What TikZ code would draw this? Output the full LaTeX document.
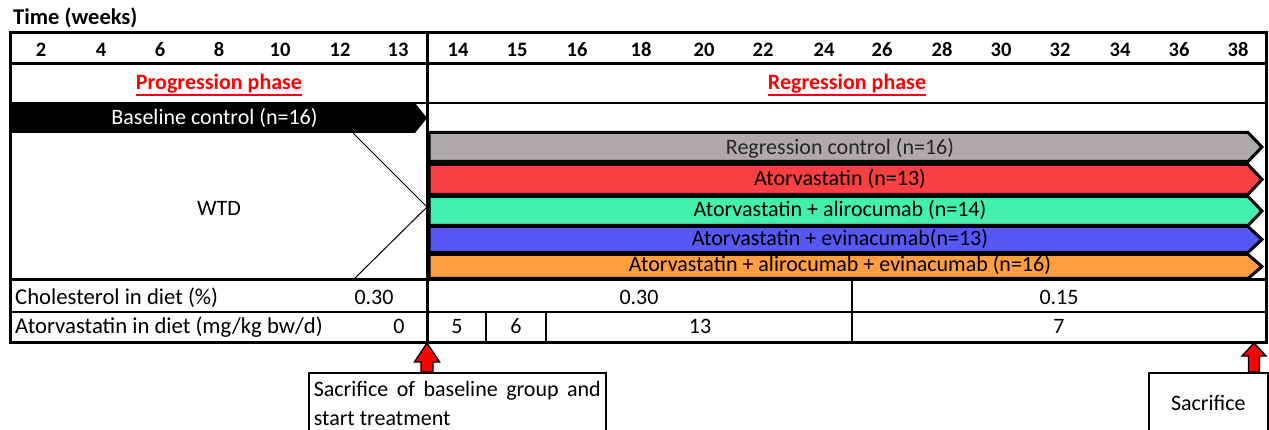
\documentclass[tikz,border=0pt]{standalone}
\usepackage{fontspec}
\setmainfont{Carlito}
\usetikzlibrary{calc}
\definecolor{cgray}{RGB}{174,170,170}
\definecolor{cred}{RGB}{248,64,66}
\definecolor{cgreen}{RGB}{66,238,176}
\definecolor{cblue}{RGB}{86,88,246}
\definecolor{corange}{RGB}{255,158,62}
\definecolor{cphase}{RGB}{255,0,0}
\tikzset{
  txt/.style={font=\fontsize{22}{26}\selectfont, inner sep=0pt},
  rowlbl/.style={font=\fontsize{22.7}{26}\selectfont, inner sep=0pt, anchor=base west},
  num/.style={font=\fontsize{20.5}{24}\selectfont\bfseries, inner sep=0pt, anchor=base},
  phase/.style={font=\fontsize{22}{26}\selectfont\bfseries, text=cphase, inner sep=0pt, anchor=base},
  bar/.style={draw=black, line width=3pt, line join=miter},
  bartxt/.style={txt, anchor=base},
  grid2/.style={line width=2pt},
  grid3/.style={line width=3pt},
  redarr/.style={draw=black, fill=red, line width=1.4pt, line join=miter},
  notebox/.style={draw=black, line width=1.6pt, fill=white, font=\fontsize{22}{29}\selectfont}
}
\begin{document}
\begin{tikzpicture}[x=1pt,y=-1pt]
\useasboundingbox (0,0) rectangle (1269,430);
\clip (0,0) rectangle (1269,430);

% title
\node[inner sep=0pt, font=\fontsize{22.5}{26}\selectfont\bfseries, anchor=base west] (title) at (13,25) {Time (weeks)};

% time numbers
\foreach \x/\t in {41/2,101/4,160/6,219/8,280/10,340/12,398/13,458/14,517/15,577/16,641/18,704/20,763/22,824/24,882/26,942/28,1001/30,1060/32,1120/34,1179/36,1238/38}
  \node[num] (t\t) at (\x,57) {\t};

% phases
\node[phase] (pp) at (219,90) {Progression phase};
\node[phase] (rp) at (847,90) {Regression phase};
\draw[cphase, line width=2pt] ($(pp.base west)+(0,5)$) -- ($(pp.base east)+(0,5)$);
\draw[cphase, line width=2pt] ($(rp.base west)+(0,5)$) -- ($(rp.base east)+(0,5)$);

% baseline control arrow
\fill[black] (10,103) -- (415,103) -- (427,118) -- (415,133) -- (10,133) -- cycle;
\node[bartxt, text=white] (bc) at (214.5,125) {Baseline control (n=16)};

% WTD
\node[txt] (wtd) at (219,208) {WTD};
\draw[line width=1pt] (353,133) -- (427,207) -- (353,280);

% regression bars
\draw[bar, fill=cgray]   (429,132.5) -- (1248,132.5) -- (1262,147) -- (1248,161.5) -- (429,161.5) -- cycle;
\draw[bar, fill=cred]    (429,164.5) -- (1248,164.5) -- (1262,179.5) -- (1248,194.5) -- (429,194.5) -- cycle;
\draw[bar, fill=cgreen]  (429,196.5) -- (1248,196.5) -- (1262,211) -- (1248,225.5) -- (429,225.5) -- cycle;
\draw[bar, fill=cblue]   (429,226.5) -- (1248,226.5) -- (1262,239.5) -- (1248,252.5) -- (429,252.5) -- cycle;
\draw[bar, fill=corange] (429,254.5) -- (1248,254.5) -- (1262,266.5) -- (1248,278.5) -- (429,278.5) -- cycle;
\node[bartxt, text=black!85] (g1) at (840,155) {Regression control (n=16)};
\node[bartxt] (g2) at (840,186) {Atorvastatin (n=13)};
\node[bartxt] (g3) at (840,217) {Atorvastatin + alirocumab (n=14)};
\node[bartxt] (g4) at (840,245.5) {Atorvastatin + evinacumab(n=13)};
\node[bartxt] (g5) at (840,272) {Atorvastatin + alirocumab + evinacumab (n=16)};

% grid lines
\draw[grid3] (10,64) -- (1266,64);
\draw[grid2] (10,103) -- (1266,103);
\draw[grid3] (10,280) -- (1266,280);
\draw[grid2] (10,312) -- (1266,312);
\draw[grid2] (486,312) -- (486,342);
\draw[grid2] (546,312) -- (546,342);
\draw[grid2] (852,280) -- (852,342);
\draw[grid3] (427,33) -- (427,342);
\draw[grid3] (10,33) rectangle (1266,342);

% diet rows
\node[rowlbl] (chl) at (15,305) {Cholesterol in diet (\%)};
\node[txt, anchor=base] (c1) at (374,305) {0.30};
\node[txt, anchor=base] (c2) at (639,305) {0.30};
\node[txt, anchor=base] (c3) at (1059,305) {0.15};
\node[rowlbl] (atl) at (15,334) {Atorvastatin in diet (mg/kg bw/d)};
\node[txt, anchor=base] (a0) at (399,334) {0};
\node[txt, anchor=base] (a1) at (457,334) {5};
\node[txt, anchor=base] (a2) at (516,334) {6};
\node[txt, anchor=base] (a3) at (700,334) {13};
\node[txt, anchor=base] (a4) at (1059,334) {7};

% note boxes
\node[notebox, anchor=north west, inner xsep=5pt, inner ysep=8pt, text width=287pt, align=justify] (sbl) at (308,372)
  {Sacrifice of baseline group and start treatment};
\node[notebox, anchor=north west, minimum width=119pt, minimum height=60pt, inner sep=0pt] (sbr) at (1148,372) {Sacrifice};

% red block arrows
\coordinate (tipL) at (427,343);
\coordinate (tipR) at (1254,343);
\coordinate (botL) at (tipL |- sbl.north);
\coordinate (botR) at (tipR |- sbr.north);
\draw[redarr] (tipL) -- ($(tipL)+(12.5,19)$) -- ($(tipL)+(6,19)$) -- ($(botL)+(6,0)$) -- ($(botL)+(-6,0)$) -- ($(tipL)+(-6,19)$) -- ($(tipL)+(-12.5,19)$) -- cycle;
\draw[redarr] (tipR) -- ($(tipR)+(12,13)$) -- ($(tipR)+(5.5,13)$) -- ($(botR)+(5.5,0)$) -- ($(botR)+(-5.5,0)$) -- ($(tipR)+(-5.5,13)$) -- ($(tipR)+(-12,13)$) -- cycle;
\end{tikzpicture}
\end{document}
